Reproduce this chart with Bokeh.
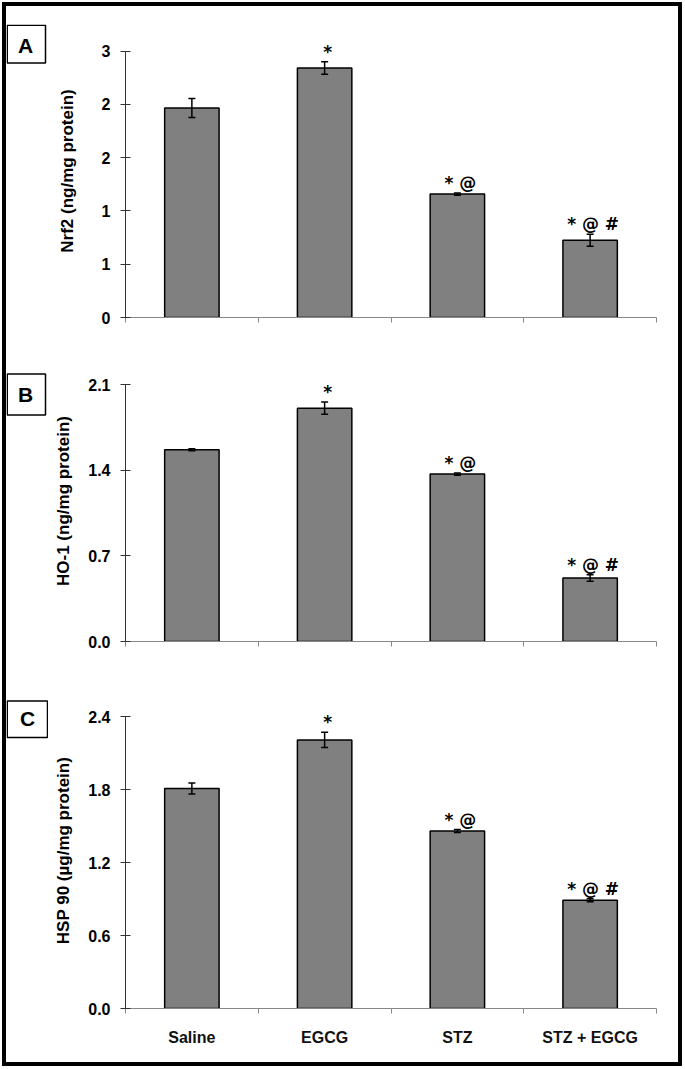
import numpy as np
from bokeh.plotting import figure
from bokeh.layouts import column, row
from bokeh.models import (Range1d, FixedTicker, NumeralTickFormatter, ColumnDataSource,
                          Whisker, TeeHead)
from bokeh.embed import file_html
from bokeh.resources import INLINE
from bokeh.core.properties import value

# ---------------- data ----------------
categories = ["Saline", "EGCG", "STZ", "STZ + EGCG"]
sig_marks = ["", "*", "* @", "* @ #"]

nrf2_mean = [2.36, 2.81, 1.39, 0.87]
nrf2_err = [0.107, 0.071, 0.013, 0.067]
nrf2_ticks = [0, 0.6, 1.2, 1.8, 2.4, 3.0]

ho1_mean = [1.57, 1.91, 1.37, 0.52]
ho1_err = [0.008, 0.05, 0.01, 0.027]
ho1_ticks = [0, 0.7, 1.4, 2.1]

hsp90_mean = [1.81, 2.21, 1.46, 0.89]
hsp90_err = [0.045, 0.062, 0.012, 0.012]
hsp90_ticks = [0, 0.6, 1.2, 1.8, 2.4]

FONT = "Liberation Sans"
MARK_FONT = "DejaVu Sans"
LW = 42    # width of the panel-letter strip
MW = 630   # width of each chart


def letter_fig(height, letter, box, center):
    f = figure(width=LW, height=height, x_range=Range1d(0, LW), y_range=Range1d(height, 0),
               output_backend="svg", toolbar_location=None, min_border=0,
               x_axis_type=None, y_axis_type=None, outline_line_color=None,
               background_fill_color="white", border_fill_color="white")
    l, r, t, b = box
    f.quad(left=[l], right=[r], top=[t], bottom=[b], fill_color="white",
           line_color="black", line_width=1.5)
    f.text(x=[center[0]], y=[center[1]], text=[letter], text_align="center",
           text_baseline="middle", text_font=value(FONT), text_font_style="bold",
           text_font_size="21px", text_color="black")
    return f


def panel(means, errs, ticks, fmt, ymax, ylabel, height, mb_top, mb_bottom, label_standoff, last):
    n = len(categories)
    xs = [i + 0.5 for i in range(n)]
    p = figure(width=MW, height=height, x_range=Range1d(0, n), y_range=Range1d(0, ymax),
               output_backend="svg", toolbar_location=None,
               min_border_left=77, min_border_right=22,
               min_border_top=mb_top, min_border_bottom=mb_bottom,
               background_fill_color="white", border_fill_color="white",
               outline_line_color=None)
    p.xgrid.visible = False
    p.ygrid.visible = False

    src = ColumnDataSource(dict(
        x=xs, top=means,
        upper=[m + e for m, e in zip(means, errs)],
        lower=[m - e for m, e in zip(means, errs)],
        mark=sig_marks))

    p.vbar(x="x", top="top", bottom=0, width=0.41, source=src,
           fill_color="#808080", line_color="black", line_width=1.5)

    w = Whisker(source=src, base="x", upper="upper", lower="lower", level="overlay",
                line_color="black", line_width=1.5,
                upper_head=TeeHead(size=7, line_width=1.5, line_color="black"),
                lower_head=TeeHead(size=7, line_width=1.5, line_color="black"))
    p.add_layout(w)

    p.text(x="x", y="upper", text="mark", source=src, text_align="center",
           text_baseline="alphabetic", y_offset=-10, x_offset=3,
           text_font=value(MARK_FONT), text_font_style="bold",
           text_font_size="17px", text_color="black")

    # y axis
    yax = p.yaxis[0]
    yax.ticker = FixedTicker(ticks=ticks)
    yax.formatter = NumeralTickFormatter(format=fmt)
    yax.bounds = (0, ticks[-1])
    yax.axis_line_color = "#333333"
    yax.major_tick_line_color = "#333333"
    yax.major_tick_in = 5
    yax.major_tick_out = 5
    yax.minor_tick_line_color = None
    yax.major_label_standoff = 10
    yax.major_label_text_font = FONT
    yax.major_label_text_font_style = "bold"
    yax.major_label_text_font_size = "16px"
    yax.major_label_text_color = "black"
    yax.axis_label = ylabel
    yax.axis_label_text_font = FONT
    yax.axis_label_text_font_style = "bold"
    yax.axis_label_text_font_size = "17px"
    yax.axis_label_text_color = "black"
    yax.axis_label_standoff = label_standoff

    # x axis
    xax = p.xaxis[0]
    if last:
        xax.ticker = FixedTicker(ticks=xs, minor_ticks=list(range(n + 1)))
        xax.major_label_overrides = {x: c for x, c in zip(xs, categories)}
        xax.major_label_standoff = 15
    else:
        xax.ticker = FixedTicker(ticks=[], minor_ticks=list(range(n + 1)))
        xax.major_label_standoff = 0
    xax.axis_line_color = "#888888"
    xax.major_tick_line_color = None
    xax.major_tick_out = 0
    xax.major_tick_in = 0
    xax.minor_tick_line_color = "#888888"
    xax.minor_tick_out = 5
    xax.minor_tick_in = 0
    xax.major_label_text_font = FONT
    xax.major_label_text_font_style = "bold"
    xax.major_label_text_font_size = "16px"
    xax.major_label_text_color = "#111111"
    return p


H1, H2, H3 = 334, 315, 407

p1 = panel(nrf2_mean, nrf2_err, nrf2_ticks, "0", 3.3, "Nrf2 (ng/mg protein)",
           H1, 18, 23, 22, False)
p2 = panel(ho1_mean, ho1_err, ho1_ticks, "0.0", 2.3, "HO-1 (ng/mg protein)",
           H2, 20, 14, 12, False)
p3 = panel(hsp90_mean, hsp90_err, hsp90_ticks, "0.0", 2.6, "HSP 90 (µg/mg protein)",
           H3, 37, 54, 12, True)

l1 = letter_fig(H1, "A", (0.75, 39, 0.75, 44), (19, 23.5))
l2 = letter_fig(H2, "B", (0.75, 39, 15, 61), (19, 38))
l3 = letter_fig(H3, "C", (0.75, 41, 11, 58), (21, 34))

layout = column(row(l1, p1, spacing=0), row(l2, p2, spacing=0), row(l3, p3, spacing=0),
                spacing=0,
                styles={"border": "4px solid black", "margin": "2px"})
open("out.html", "w").write(file_html(layout, INLINE))
